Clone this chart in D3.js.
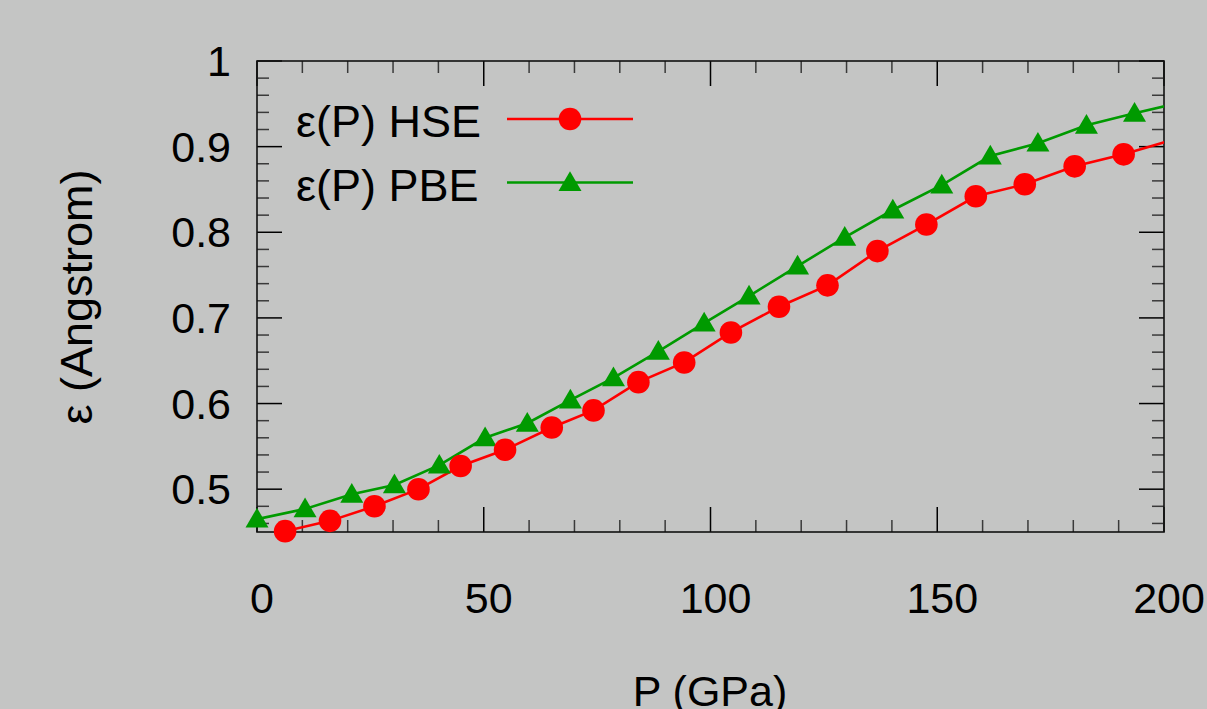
<!DOCTYPE html>
<html>
<head>
<meta charset="utf-8">
<script src="https://cdn.jsdelivr.net/npm/d3@7"></script>
<style>
  html, body { margin: 0; padding: 0; background: #c4c5c4; overflow: hidden; }
  svg text { font-family: "Liberation Sans", Arial, sans-serif; fill: #000; }
</style>
</head>
<body>
<svg id="chart" width="1207" height="709"></svg>
<script>
// HSE series (pressure in GPa, epsilon in Angstrom)
const hseP = [6.2, 16.1, 25.9, 35.6, 44.9, 54.7, 65.0, 74.2, 84.1, 94.2, 104.5, 115.1, 125.8, 136.8, 147.6, 158.5, 169.3, 180.3, 191.1, 202];
const hseE = [0.451, 0.463, 0.480, 0.500, 0.527, 0.546, 0.572, 0.592, 0.625, 0.648, 0.683, 0.713, 0.738, 0.778, 0.809, 0.842, 0.856, 0.877, 0.891, 0.908];
// PBE series
const pbeP = [0, 10.6, 20.9, 30.3, 40.2, 50.3, 59.6, 69.1, 78.6, 88.5, 98.6, 108.5, 119.2, 129.6, 140.2, 151.0, 161.7, 172.2, 182.9, 193.5, 204];
const pbeE = [0.465, 0.477, 0.494, 0.505, 0.528, 0.560, 0.577, 0.604, 0.630, 0.661, 0.694, 0.7255, 0.7605, 0.794, 0.826, 0.855, 0.889, 0.904, 0.925, 0.939, 0.952];

const xTicks = [0, 50, 100, 150, 200];
const yTicks = [0.5, 0.6, 0.7, 0.8, 0.9, 1];
const xTickLabels = ["0", "50", "100", "150", "200"];
const yTickLabels = ["0.5", "0.6", "0.7", "0.8", "0.9", "1"];
const seriesNames = ["ε(P) HSE", "ε(P) PBE"];
const xTitle = "P (GPa)";
const yTitle = "ε (Angstrom)";

const margin = {left: 257, right: 43, top: 61, bottom: 177};
const width = 1207, height = 709;
const x0 = margin.left, x1 = width - margin.right;
const y0 = height - margin.bottom, y1 = margin.top;

const xScale = d3.scaleLinear().domain([0, 200]).range([x0, x1]);
const yScale = d3.scaleLinear().domain([0.45, 1]).range([y0, y1]);

const svg = d3.select("#chart");
const fontSize = 43;
const red = "#ff0000", green = "#009a00";

svg.append("defs").append("clipPath").attr("id", "plot-clip")
  .append("rect").attr("x", x0).attr("y", y1).attr("width", x1 - x0).attr("height", y0 - y1);

// ticks (inward, mirrored)
const xMinor = d3.range(0, 201, 10);
const yMinor = d3.range(0.46, 1.0001, 0.02).map(d => +d.toFixed(2));
const minorLen = 12, majorLen = 25;
const ticks = svg.append("g");
xMinor.forEach(v => {
  const major = v % 50 === 0;
  const len = major ? majorLen : minorLen;
  const col = major ? "#000" : "#3a3a3a";
  ticks.append("line").attr("x1", xScale(v)).attr("x2", xScale(v))
    .attr("y1", y0).attr("y2", y0 - len).attr("stroke", col).attr("stroke-width", 1.5);
  ticks.append("line").attr("x1", xScale(v)).attr("x2", xScale(v))
    .attr("y1", y1).attr("y2", y1 + len).attr("stroke", col).attr("stroke-width", 1.5);
});
yMinor.forEach(v => {
  const major = Math.abs(v * 10 - Math.round(v * 10)) < 1e-6;
  const len = major ? majorLen : minorLen;
  const col = major ? "#000" : "#3a3a3a";
  ticks.append("line").attr("y1", yScale(v)).attr("y2", yScale(v))
    .attr("x1", x0).attr("x2", x0 + len).attr("stroke", col).attr("stroke-width", 1.5);
  ticks.append("line").attr("y1", yScale(v)).attr("y2", yScale(v))
    .attr("x1", x1).attr("x2", x1 - len).attr("stroke", col).attr("stroke-width", 1.5);
});

// border
svg.append("rect").attr("x", x0).attr("y", y1).attr("width", x1 - x0).attr("height", y0 - y1)
  .attr("fill", "none").attr("stroke", "#111").attr("stroke-width", 1.6);

// tick labels
svg.append("g").selectAll("text").data(xTicks).join("text")
  .attr("x", d => xScale(d) + 5).attr("y", 613)
  .attr("text-anchor", "middle").attr("font-size", fontSize)
  .text((d, i) => xTickLabels[i]);
svg.append("g").selectAll("text").data(yTicks).join("text")
  .attr("x", 231).attr("y", d => yScale(d) + 15)
  .attr("text-anchor", "end").attr("font-size", fontSize)
  .text((d, i) => yTickLabels[i]);

// axis titles
svg.append("text").attr("x", 710).attr("y", 706).attr("text-anchor", "middle")
  .attr("font-size", fontSize).text(xTitle);
svg.append("text").attr("transform", "translate(92,297) rotate(-90)")
  .attr("text-anchor", "middle").attr("font-size", 45).text(yTitle);

// series
const hse = hseP.map((p, i) => ({x: p, y: hseE[i]}));
const pbe = pbeP.map((p, i) => ({x: p, y: pbeE[i]}));
const line = d3.line().x(d => xScale(d.x)).y(d => yScale(d.y));
const triangle = "M0,-11.3 L11.5,8.4 L-11.5,8.4 Z";

svg.append("path").datum(pbe).attr("d", line).attr("clip-path", "url(#plot-clip)")
  .attr("fill", "none").attr("stroke", green).attr("stroke-width", 2.6);
svg.append("path").datum(hse).attr("d", line).attr("clip-path", "url(#plot-clip)")
  .attr("fill", "none").attr("stroke", red).attr("stroke-width", 2.6);

svg.append("g").selectAll("path").data(pbe.filter(d => d.x <= 200)).join("path")
  .attr("transform", d => `translate(${xScale(d.x)},${yScale(d.y)})`)
  .attr("d", triangle).attr("fill", green);
svg.append("g").selectAll("circle").data(hse.filter(d => d.x <= 200)).join("circle")
  .attr("cx", d => xScale(d.x)).attr("cy", d => yScale(d.y)).attr("r", 11.3).attr("fill", red);

// legend
const legend = svg.append("g");
const legendRows = [
  {name: seriesNames[0], color: red, y: 119, mark: "circle"},
  {name: seriesNames[1], color: green, y: 182.5, mark: "triangle"}
];
legendRows.forEach(r => {
  legend.append("text").attr("x", 296).attr("y", r.y + 18).attr("font-size", 45).text(r.name);
  legend.append("line").attr("x1", 507).attr("x2", 633).attr("y1", r.y).attr("y2", r.y)
    .attr("stroke", r.color).attr("stroke-width", 2.6);
  if (r.mark === "circle") {
    legend.append("circle").attr("cx", 570).attr("cy", r.y).attr("r", 11.3).attr("fill", r.color);
  } else {
    legend.append("path").attr("transform", `translate(570,${r.y})`).attr("d", triangle).attr("fill", r.color);
  }
});
</script>
</body>
</html>
